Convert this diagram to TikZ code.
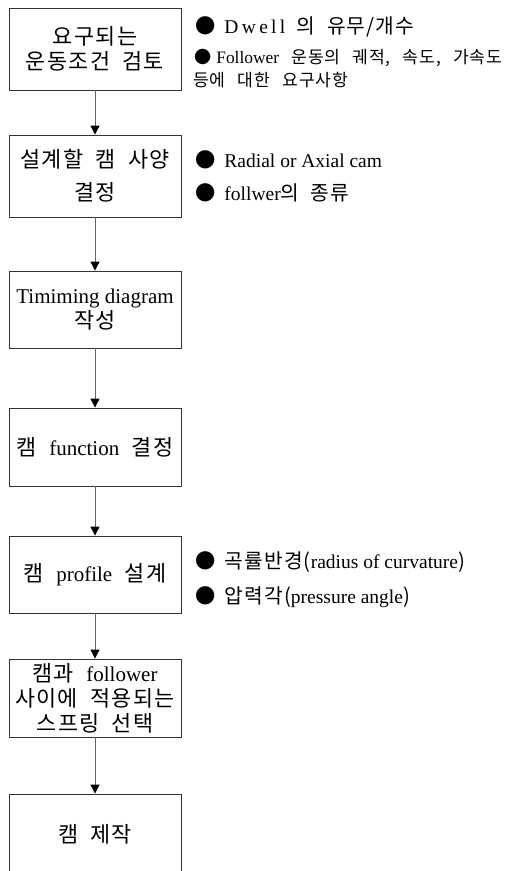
\documentclass[tikz,border=0pt]{standalone}
\usepackage{fontspec}
\setmainfont{Liberation Serif}
\newfontfamily\krfont[Scale=1.04, LetterSpace=6, WordSpace=2]{Noto Sans CJK KR}
\newfontfamily\krsmall[Scale=1.04, LetterSpace=5, WordSpace=2.6]{Noto Sans CJK KR}
\newcommand{\kor}[1]{{\krfont #1}}
\newcommand{\korn}[1]{{\krsmall #1}}
\usetikzlibrary{arrows.meta}

\begin{document}
\begin{tikzpicture}[x=1pt, y=1pt,
    stepbox/.style={draw=black!80, line width=0.9pt, minimum width=172pt,
        align=center, inner sep=0pt, font=\fontsize{21}{25}\selectfont},
    flow/.style={draw=black!60, line width=1pt,
        -{Triangle[width=9pt, length=9pt, color=black]}},
    note/.style={anchor=west, inner sep=0pt, font=\fontsize{19.5}{23}\selectfont}]

    \useasboundingbox (0,0) rectangle (521,-871);

    % 단계 상자
    \node[stepbox, minimum height=82pt] (s1) at (95,-49) {\kor{요구되는}\\\kor{운동조건 검토}};
    \node[stepbox, minimum height=82pt] (s2) at (95,-176) {\kor{설계할 캠 사양}\\[8pt]\kor{결정}};
    \node[stepbox, minimum height=77pt] (s3) at (95,-309.5) {Timiming diagram\\\kor{작성}};
    \node[stepbox, minimum height=78pt] (s4) at (95,-447) {\kor{캠 }function\kor{ 결정}};
    \node[stepbox, minimum height=77pt] (s5) at (95,-574.5) {\kor{캠 }profile\kor{ 설계}};
    \node[stepbox, minimum height=78pt] (s6) at (95,-698) {\kor{캠과 }follower\\\kor{사이에 적용되는}\\\kor{스프링 선택}};
    \node[stepbox, minimum height=80pt] (s7) at (95,-834) {\kor{캠 제작}};

    % 화살표
    \foreach \a/\b in {s1/s2, s2/s3, s3/s4, s4/s5, s5/s6, s6/s7}
        \draw[flow] (\a.south) -- (\b.north);

    % 설명
    \node[note] (n1) at (195,-27) {\kor{●}\hspace{9pt}{\addfontfeature{LetterSpace=17}Dwell}\kor{ 의 유무/개수}};
    \node[note, font=\fontsize{16.5}{20}\selectfont] (n2) at (194,-58)
        {\kor{●}\hspace{5pt}{\fontsize{17.4}{20}\selectfont Follower}\korn{ 운동의 궤적, 속도, 가속도}};
    \node[note, font=\fontsize{16.5}{20}\selectfont] (n3) at (193,-80) {\korn{등에 대한 요구사항}};
    \node[note] (n4) at (195,-160) {\kor{●}\hspace{9pt}Radial or Axial cam};
    \node[note] (n5) at (195,-193) {\kor{●}\hspace{9pt}follwer\kor{의 종류}};
    \node[note] (n6) at (195,-562) {\kor{●}\hspace{9pt}\kor{곡률반경(}radius of curvature\kor{)}};
    \node[note] (n7) at (195,-597) {\kor{●}\hspace{9pt}\kor{압력각(}pressure angle\kor{)}};
\end{tikzpicture}
\end{document}
